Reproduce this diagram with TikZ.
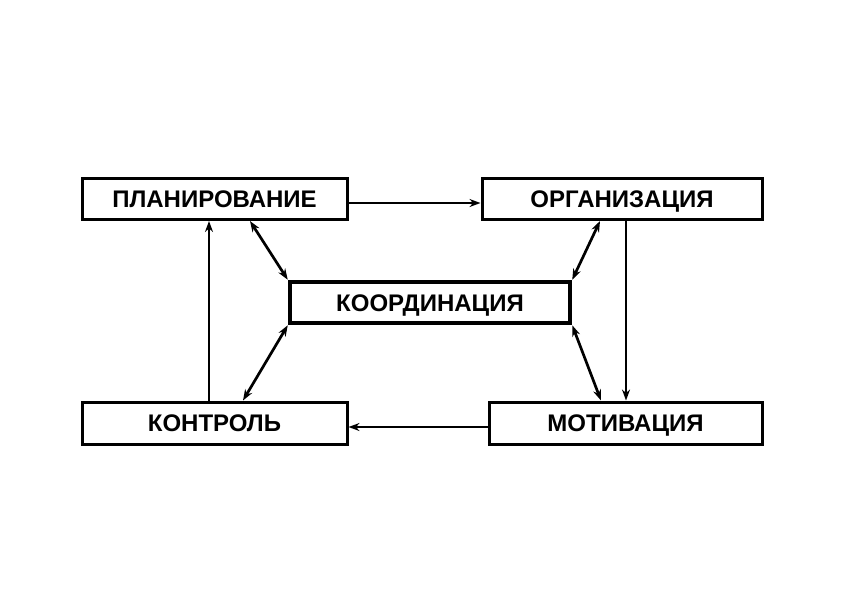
\documentclass[tikz,border=0pt]{standalone}
\usepackage{fontspec}
\setmainfont{Liberation Sans}
\usetikzlibrary{arrows.meta}
\begin{document}
\begin{tikzpicture}[x=1pt,y=-1pt,
  box/.style={draw,line width=3pt,rectangle,inner sep=0pt,text height=17.2pt,text depth=0pt,font=\fontsize{24}{28}\selectfont\bfseries},
  cbox/.style={box,line width=4.5pt},
  arr/.style={line width=2.7pt,-{Stealth[length=11pt,width=8pt]}},
  darr/.style={line width=2.7pt,{Stealth[length=11pt,width=8pt]}-{Stealth[length=11pt,width=8pt]}}]
\useasboundingbox[fill=white] (0,0) rectangle (864,592);
\node[box,minimum width=265pt,minimum height=41pt] (plan) at (214.5,199) {ПЛАНИРОВАНИЕ};
\node[box,minimum width=280pt,minimum height=41pt] (org) at (622,199) {ОРГАНИЗАЦИЯ};
\node[cbox,minimum width=280pt,minimum height=41pt] (coord) at (430,302.5) {КООРДИНАЦИЯ};
\node[box,minimum width=265pt,minimum height=42pt] (kontr) at (214.5,423) {КОНТРОЛЬ};
\node[box,minimum width=273pt,minimum height=42pt] (motiv) at (625.5,423) {МОТИВАЦИЯ};
\coordinate (xa) at (626,0);
\coordinate (xb) at (209,0);
\coordinate (xc) at (250,0);
\coordinate (xd) at (600,0);
\coordinate (xe) at (243,0);
\coordinate (xf) at (601,0);
\coordinate (ya) at (0,203);
\coordinate (yb) at (0,427);
\draw[arr] (plan.east |- ya) -- (org.west |- ya);
\draw[arr] (org.south -| xa) -- (motiv.north -| xa);
\draw[arr] (motiv.west |- yb) -- (kontr.east |- yb);
\draw[arr] (kontr.north -| xb) -- (plan.south -| xb);
\draw[darr] (plan.south -| xc) -- (coord.north west);
\draw[darr] (org.south -| xd) -- (coord.north east);
\draw[darr] (coord.south west) -- (kontr.north -| xe);
\draw[darr] (coord.south east) -- (motiv.north -| xf);
\end{tikzpicture}
\end{document}
